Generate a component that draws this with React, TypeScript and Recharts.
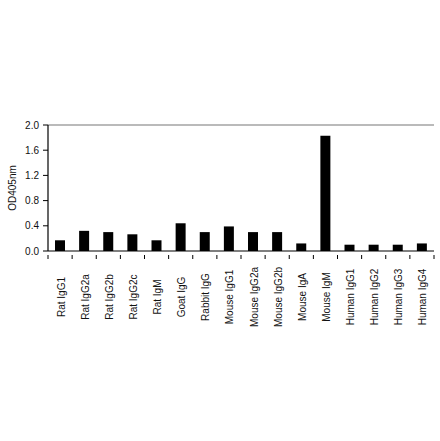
import React from "react";
import { BarChart, Bar, XAxis, YAxis, ReferenceLine } from "recharts";

// antibody isotypes tested and their OD405 readings
const isotypes = [
  "Rat IgG1",
  "Rat IgG2a",
  "Rat IgG2b",
  "Rat IgG2c",
  "Rat IgM",
  "Goat IgG",
  "Rabbit IgG",
  "Mouse IgG1",
  "Mouse IgG2a",
  "Mouse IgG2b",
  "Mouse IgA",
  "Mouse IgM",
  "Human IgG1",
  "Human IgG2",
  "Human IgG3",
  "Human IgG4",
];
const od405 = [0.17, 0.32, 0.3, 0.265, 0.17, 0.44, 0.3, 0.39, 0.3, 0.3, 0.12, 1.83, 0.1, 0.1, 0.1, 0.12];
const yTicks = [0, 0.4, 0.8, 1.2, 1.6, 2.0];

const data = isotypes.map((name, i) => ({ name, od: od405[i] }));

const font = "'Liberation Sans', Arial, sans-serif";

// category label rotated, plus a small upward tick at the band boundary
function CategoryTick(props: any) {
  const { x, y, payload, index, visibleTicksCount } = props;
  const half = payload.offset || 0;
  const isLast = index === visibleTicksCount - 1;
  return (
    <g>
      <line x1={x - half} y1={y} x2={x - half} y2={y - 4} stroke="#000" strokeWidth={1} />
      {isLast && <line x1={x + half} y1={y} x2={x + half} y2={y - 4} stroke="#000" strokeWidth={1} />}
      <text
        transform={`translate(${x + 1},${y + 38}) rotate(-90)`}
        textAnchor="middle"
        dy="0.35em"
        fontSize={10}
        fontFamily={font}
        fill="#111"
      >
        {payload.value}
      </text>
    </g>
  );
}

export default function App() {
  return (
    <div style={{ position: "absolute", left: 0, top: 0, width: 440, height: 441, background: "#fff" }}>
      <BarChart
        width={440}
        height={441}
        data={data}
        margin={{ top: 125, right: 6, left: 0, bottom: 0 }}
        barCategoryGap={0}
      >
        <XAxis
          dataKey="name"
          height={190}
          interval={0}
          tickLine={false}
          axisLine={{ stroke: "#000", strokeWidth: 1.2 }}
          tick={<CategoryTick />}
        />
        <YAxis
          domain={[0, 2]}
          ticks={yTicks}
          width={48}
          tickSize={5}
          tickMargin={4}
          tickFormatter={(v: number) => v.toFixed(1)}
          axisLine={{ stroke: "#000", strokeWidth: 1.2 }}
          tickLine={{ stroke: "#000" }}
          tick={{ fontSize: 10, fontFamily: font, fill: "#111" }}
          label={{
            value: "OD405nm",
            angle: -90,
            position: "insideLeft",
            offset: 12,
            style: { fontSize: 10, fontFamily: font, fill: "#111", textAnchor: "middle" },
          }}
        />
        <YAxis
          yAxisId="right"
          orientation="right"
          domain={[0, 2]}
          width={0}
          tick={false}
          tickLine={false}
          axisLine={{ stroke: "#777", strokeWidth: 1.2 }}
        />
        <ReferenceLine y={2} stroke="#777" strokeWidth={1.2} />
        <Bar dataKey="od" fill="#000" barSize={10} isAnimationActive={false} />
      </BarChart>
    </div>
  );
}
